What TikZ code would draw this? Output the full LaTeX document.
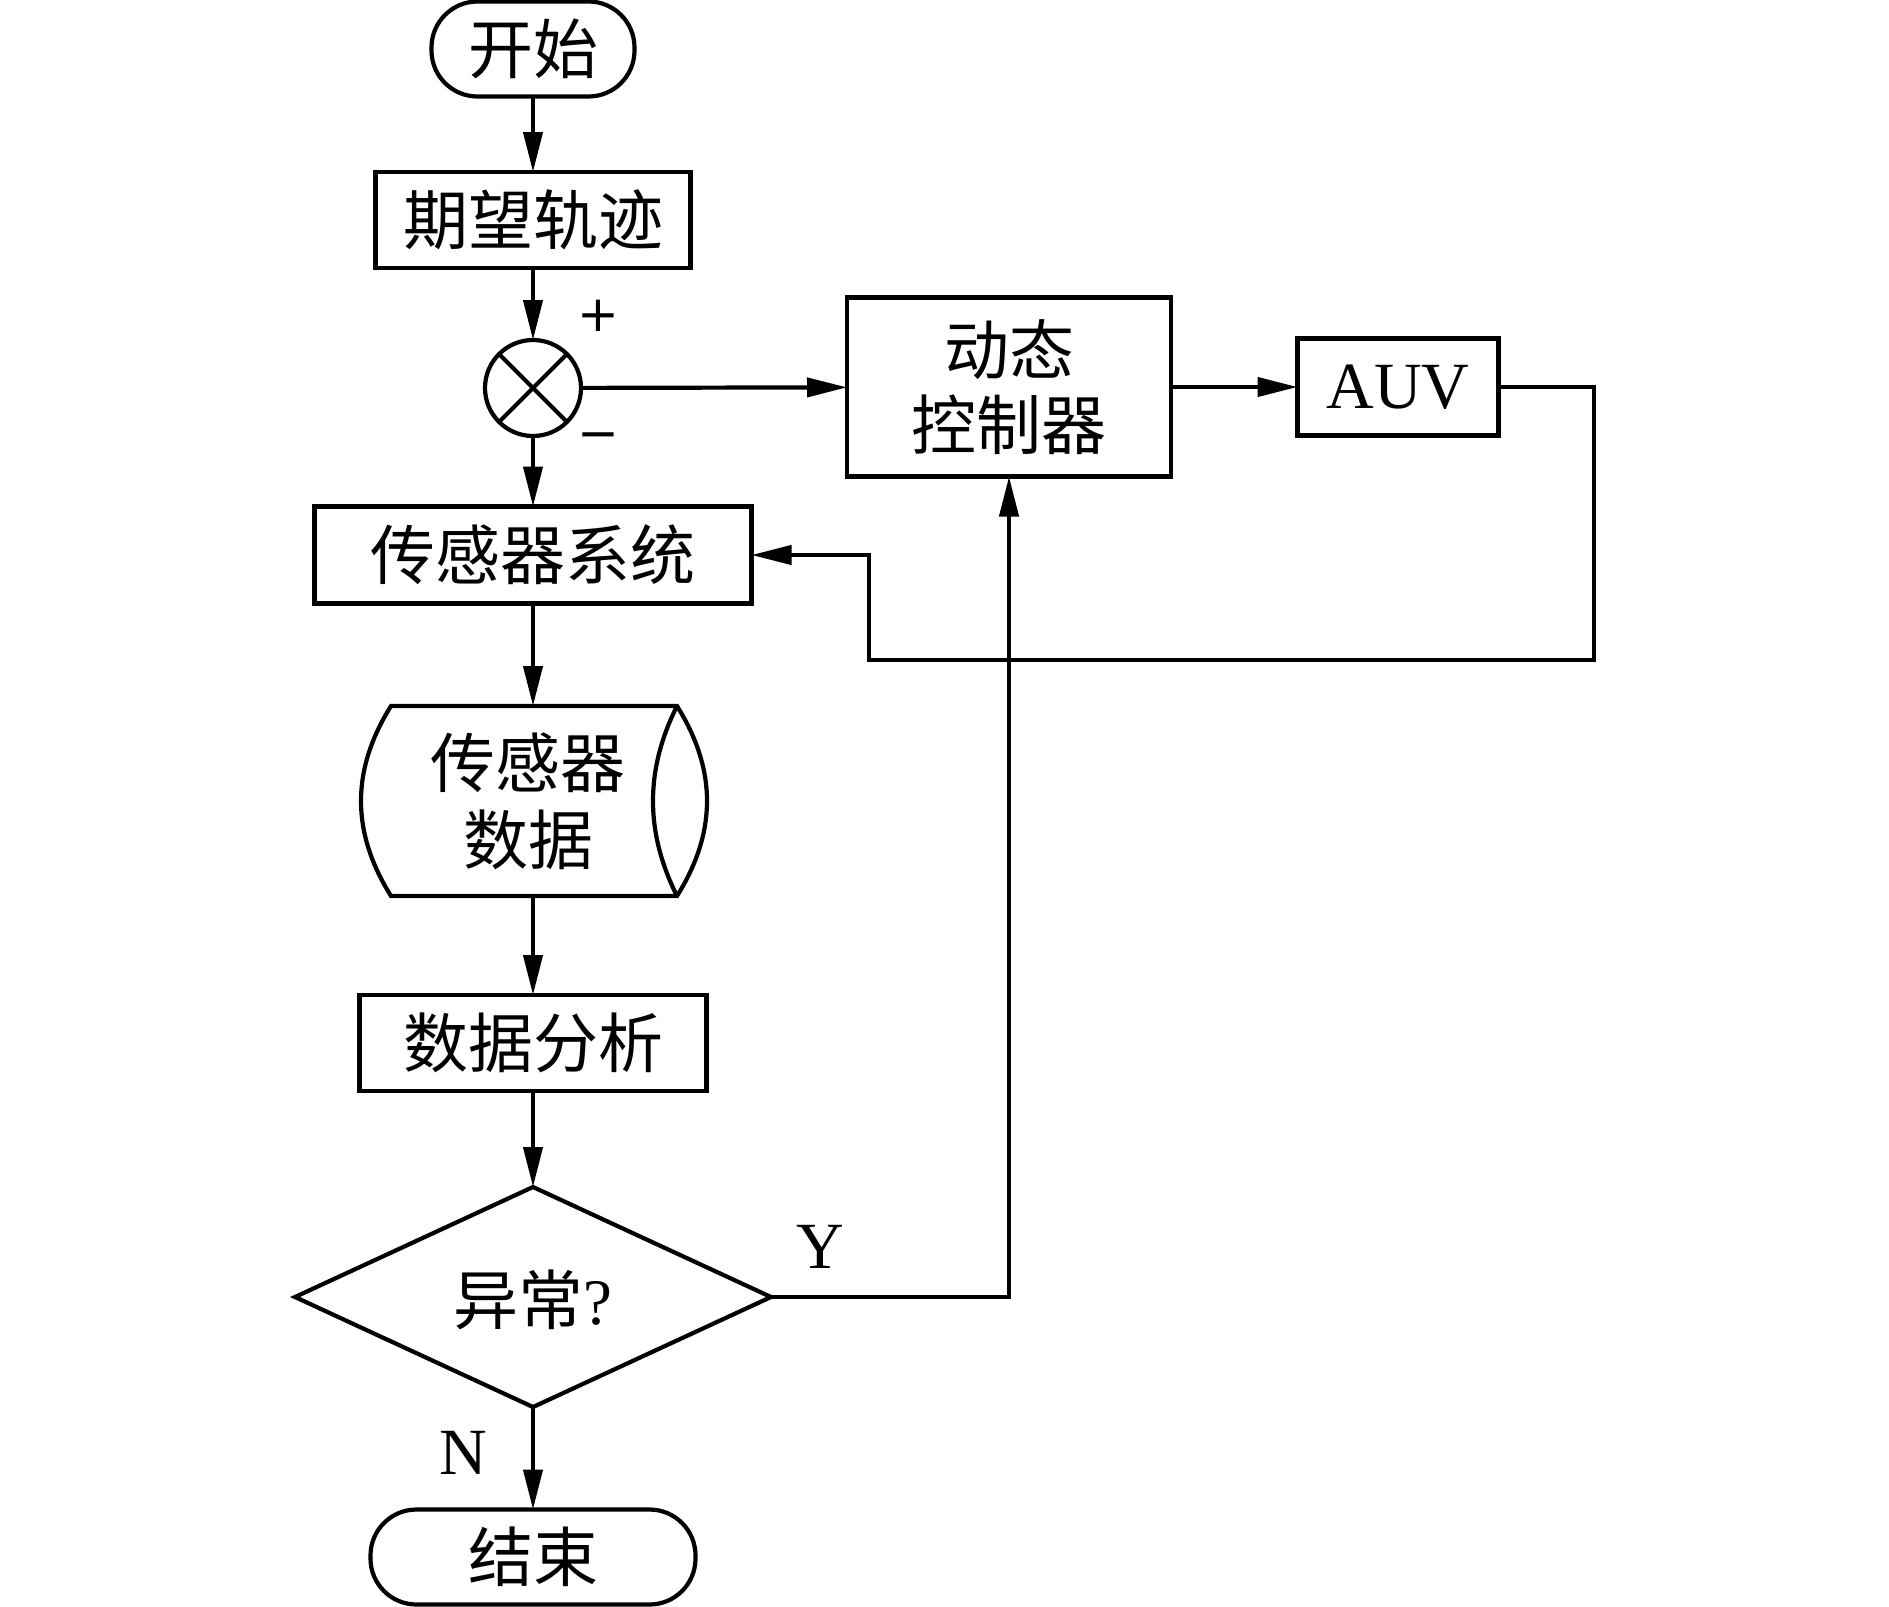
\documentclass[tikz,border=0pt]{standalone}
\usepackage{fontspec}
\setmainfont{Liberation Serif}
\newfontfamily\cjk{Noto Sans CJK SC}
\newfontfamily\symfont{DejaVu Sans}
\usetikzlibrary{arrows.meta,shapes.geometric}
\tikzset{
  every node/.style={inner sep=0pt, outer sep=0pt},
  boxnode/.style={draw, rectangle, line width=4.2pt, font=\cjk\fontsize{65}{75}\selectfont, align=center},
  termnode/.style={draw, rectangle, rounded corners=46pt, line width=4.2pt, font=\cjk\fontsize{65}{75}\selectfont},
  arr/.style={line width=4.2pt, -{Triangle[length=40pt,width=19pt]}, line join=miter},
  ln/.style={line width=4.2pt, line join=miter},
  lab/.style={font=\fontsize{66}{70}\selectfont},
}
\begin{document}
\begin{tikzpicture}[x=1pt,y=-1pt]
\fill[white] (0,0) rectangle (1889,1606);
\useasboundingbox (0,0) rectangle (1889,1606);

\node[termnode, minimum width=203pt, minimum height=95pt] (start) at (533,49) {开始};
\node[boxnode, minimum width=315pt, minimum height=96pt] (traj) at (533,220) {期望轨迹};
\node[draw, circle, line width=4.2pt, minimum size=96pt] (sum) at (533,388) {};
\draw[ln] (sum.north west) -- (sum.south east);
\draw[ln] (sum.north east) -- (sum.south west);
\node[font=\symfont\fontsize{50}{50}\selectfont] (plus) at (598,316) {+};
\node[font=\symfont\fontsize{50}{50}\selectfont] (minus) at (598,442) {−};

\node[boxnode, minimum width=324pt, minimum height=179pt] (ctrl) at (1009,387) {动态\\控制器};
\node[draw, rectangle, line width=4.2pt, minimum width=201pt, minimum height=97pt, font=\fontsize{66}{70}\selectfont] (auv) at (1398,387) {AUV};

\node[boxnode, minimum width=437pt, minimum height=97pt] (sensor) at (533,555) {传感器系统};

% cylinder (sensor data)
\coordinate (cyltop) at (533,706);
\coordinate (cylbot) at (533,896);
\draw[ln] (391,706) -- (677,706) .. controls (717,770) and (717,832) .. (677,896) -- (391,896) .. controls (351,832) and (351,770) .. (391,706) -- cycle;
\draw[ln] (677,706) .. controls (645,770) and (645,832) .. (677,896);
\node[font=\cjk\fontsize{65}{77}\selectfont, align=center] (cyltext) at (528,801) {传感器\\数据};

\node[boxnode, minimum width=347pt, minimum height=96pt] (analysis) at (533,1043) {数据分析};
\node[draw, diamond, aspect=2.2, line width=4.2pt, minimum width=476pt, minimum height=220pt] (dia) at (533,1297) {};
\node (diatext) at (533,1300) {\cjk\fontsize{65}{70}\selectfont 异常\rmfamily ?};
\node[termnode, minimum width=325pt, minimum height=95pt] (end) at (533,1557) {结束};

\node[lab] (ylab) at (820,1247) {Y};
\node[lab] (nlab) at (463,1453) {N};

% connectors
\draw[arr] (start) -- (traj);
\draw[arr] (traj) -- (sum);
\draw[arr] (sum) -- (sensor);
\draw[arr] (sum) -- (ctrl);
\draw[arr] (ctrl) -- (auv);
\coordinate (fb1) at (1594,660);
\coordinate (fb2) at (869,660);
\draw[arr] (auv.east) -| (fb1) -- (fb2) |- (sensor.east);
\draw[arr] (sensor) -- (cyltop);
\draw[arr] (cylbot) -- (analysis);
\draw[arr] (analysis) -- (dia);
\draw[arr] (dia.east) -| (ctrl.south);
\draw[arr] (dia.south) -- (end);
\end{tikzpicture}
\end{document}
